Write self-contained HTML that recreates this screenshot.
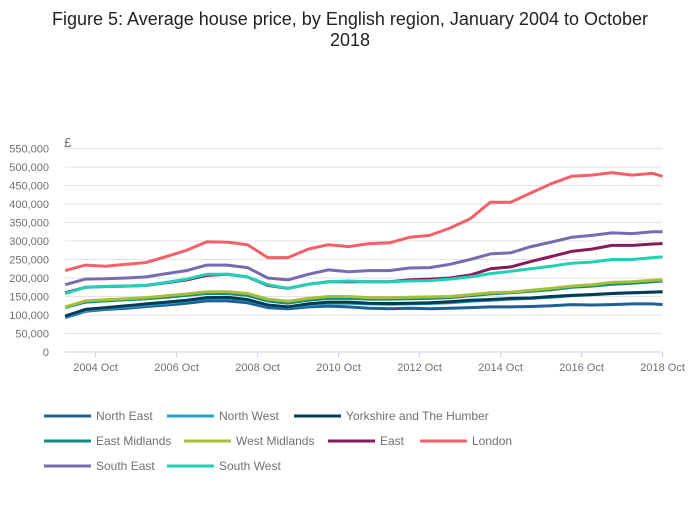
<!DOCTYPE html>
<html><head><meta charset="utf-8"><style>
body{margin:0;background:#fff;font-family:"Liberation Sans",sans-serif}
svg text{font-family:"Liberation Sans",sans-serif}
</style></head><body>
<svg id="chart" width="700" height="502" xmlns="http://www.w3.org/2000/svg">
<text x="350" y="25" text-anchor="middle" font-size="18" fill="#222">Figure 5: Average house price, by English region, January 2004 to October</text>
<text x="350" y="46" text-anchor="middle" font-size="18" fill="#222">2018</text>
<text x="64" y="147" font-size="13" fill="#707070">£</text>
<g id="grid"></g><g id="series"></g><g id="legend"></g>
</svg>
<script>
const dates=[2004,2004.5,2005,2005.5,2006,2006.5,2007,2007.5,2008,2008.5,2009,2009.5,2010,2010.5,2011,2011.5,2012,2012.5,2013,2013.5,2014,2014.5,2015,2015.5,2016,2016.5,2017,2017.5,2018,2018.5,2018.75];
const regions=["North East","North West","Yorkshire and The Humber","East Midlands","West Midlands","East","London","South East","South West"];
const colors=["#206095","#27a0cc","#003c57","#118c7b","#a8bd3a","#871a5b","#f66068","#746cb1","#22d0b6"];
const northEast=[93,110,115,118,123,127,132,138,138,133,120,117,122,124,122,118,117,118,117,118,120,122,122,123,125,128,127,128,130,130,128];
const northWest=[95,112,118,122,127,132,138,145,146,140,126,121,127,132,132,130,129,130,131,133,137,140,143,145,148,152,155,158,160,162,163];
const yorkshire=[97,115,120,125,130,135,140,147,148,142,127,122,130,135,135,132,131,132,133,136,140,142,145,146,150,153,155,158,160,162,163];
const eastMidlands=[120,135,138,141,144,148,153,158,158,153,138,132,140,145,145,143,143,144,145,147,152,157,160,164,168,175,178,183,186,190,192];
const westMidlands=[122,138,141,144,147,152,157,163,163,158,143,137,145,150,150,147,147,148,149,150,155,160,162,167,172,178,182,188,190,194,195];
const east=[160,175,177,178,180,187,195,207,210,203,180,172,183,190,190,190,190,195,197,200,208,225,230,245,258,272,278,288,288,292,293];
const london=[220,235,232,237,242,258,275,298,297,290,255,255,278,290,285,293,295,310,315,335,360,405,405,430,455,475,478,485,478,483,475];
const southEast=[182,197,198,200,203,212,220,235,235,228,200,195,210,222,217,220,220,227,228,237,250,265,268,285,297,310,315,322,320,325,325];
const southWest=[158,175,177,178,180,188,197,210,210,203,182,172,183,190,192,190,190,192,193,197,203,212,218,225,232,240,243,250,250,255,257];
const yTicks=[0,50000,100000,150000,200000,250000,300000,350000,400000,450000,500000,550000];
const xTickLabels=["2004 Oct","2006 Oct","2008 Oct","2010 Oct","2012 Oct","2014 Oct","2016 Oct","2018 Oct"];
const xTickYears=[2004.75,2006.75,2008.75,2010.75,2012.75,2014.75,2016.75,2018.75];
const allSeries=[northEast,northWest,yorkshire,eastMidlands,westMidlands,east,london,southEast,southWest];
const NS="http://www.w3.org/2000/svg";
const X0=65.2,PX=40.5,Y0=352,PY=18.5/50000;
function xs(d){return X0+(d-2004)*PX}
function ys(v){return Y0-v*PY}
function mk(t,a,p){const e=document.createElementNS(NS,t);for(const k in a)e.setAttribute(k,a[k]);p.appendChild(e);return e}
const grid=document.getElementById('grid');
yTicks.forEach(v=>{
 const l=mk('line',{x1:65,x2:662,y1:ys(v),y2:ys(v),stroke:v===0?'#c5d3e8':'#e3e3e3','stroke-width':1},grid);
 
 
 const t=mk('text',{x:49,y:ys(v)+4,'text-anchor':'end','font-size':11,fill:'#707070'},grid);
 t.textContent=v.toLocaleString('en-GB');
 
 
});
xTickYears.forEach((d,i)=>{
 const l=mk('line',{x1:xs(d),x2:xs(d),y1:352,y2:357,stroke:'#c5d3e8'},grid);
 
 
 const t=mk('text',{x:xs(d),y:371,'text-anchor':'middle','font-size':11,fill:'#707070'},grid);
 t.textContent=xTickLabels[i];
 
 
});
const sg=document.getElementById('series');
allSeries.forEach((s,i)=>{
 const p=mk('path',{d:s.map((v,j)=>(j?'L':'M')+xs(dates[j]).toFixed(1)+','+ys(v*1000).toFixed(1)).join(''),fill:'none',stroke:colors[i],'stroke-width':3,'stroke-linejoin':'round'},sg);
 
 
});
const legPos=[[44,416],[167,416],[294,416],[44,441],[184,441],[328,441],[420,441],[44,466],[167,466]];
const lg=document.getElementById('legend');
regions.forEach((r,i)=>{
 const [x,y]=legPos[i];
 const g=mk('g',{},lg);
 
 
 mk('line',{x1:x,x2:x+47,y1:y,y2:y,stroke:colors[i],'stroke-width':3},g);
 const t=mk('text',{x:x+52,y:y+4,'font-size':12,fill:'#707070'},g);
 t.textContent=r;
});
</script>
</body></html>
